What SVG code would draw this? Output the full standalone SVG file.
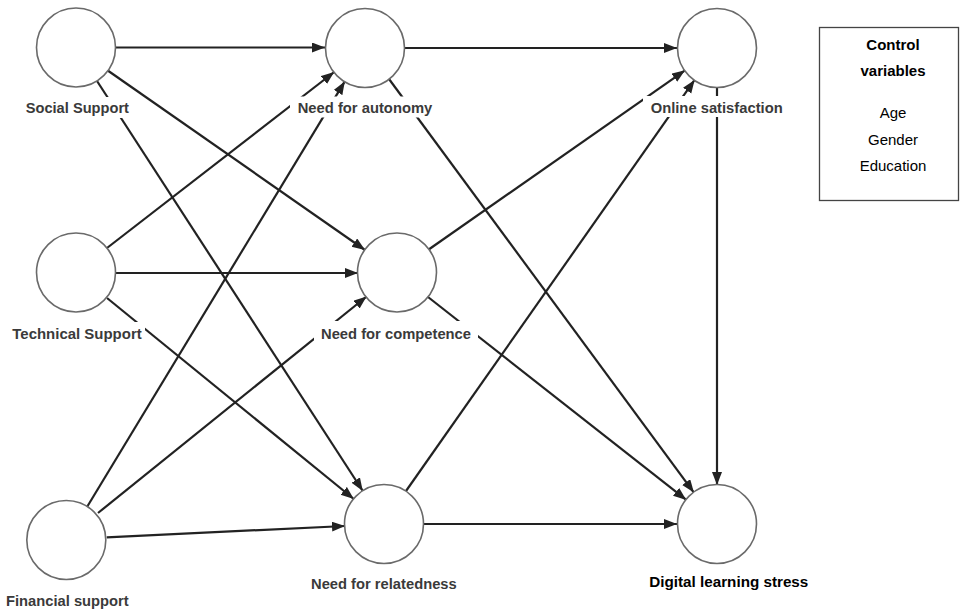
<svg xmlns="http://www.w3.org/2000/svg" width="960" height="611" viewBox="0 0 960 611">
<style>
.node{fill:#fff;stroke:#6a6a6a;stroke-width:1.6}
.conn line{stroke:#222;stroke-width:2.2;marker-end:url(#ah)}
.lbl{font-family:"Liberation Sans",Arial,sans-serif;font-weight:bold;font-size:15px;fill:#3a3a3a}
.gap{fill:#fff}
.ctl{font-family:"Liberation Sans",Arial,sans-serif;font-size:15px;fill:#000;text-anchor:middle}
</style>
<defs>
<marker id="ah" markerUnits="userSpaceOnUse" markerWidth="14" markerHeight="11" refX="13" refY="5" orient="auto">
<path d="M0,0 L13,5 L0,10 z" fill="#222"/>
</marker>
</defs>
<rect width="960" height="611" fill="#fff"/>
<g id="connectors" class="conn">
<line x1="116" y1="47.5" x2="325" y2="47.5"/>
<line x1="405" y1="48" x2="677" y2="48"/>
<line x1="107" y1="70" x2="365" y2="250"/>
<line x1="97" y1="81" x2="362.8" y2="491"/>
<line x1="107" y1="248" x2="334.2" y2="72"/>
<line x1="116" y1="273" x2="358" y2="273"/>
<line x1="107" y1="298" x2="353.8" y2="499"/>
<line x1="87" y1="507" x2="344.8" y2="81.4"/>
<line x1="98" y1="513" x2="366.6" y2="296.5"/>
<line x1="106.7" y1="537.3" x2="345" y2="526"/>
<line x1="389" y1="79" x2="693.9" y2="492.6"/>
<line x1="428" y1="250" x2="685" y2="70.3"/>
<line x1="428" y1="297" x2="686.3" y2="499.9"/>
<line x1="406" y1="491" x2="694.6" y2="79.9"/>
<line x1="424" y1="524" x2="677" y2="524"/>
<line x1="717" y1="87" x2="717" y2="485"/>
</g>
<g id="label-gaps">
<rect class="gap" x="22" y="97" width="111" height="21"/>
<rect class="gap" x="290" y="96.5" width="150" height="21"/>
<rect class="gap" x="643" y="96" width="147" height="21"/>
<rect class="gap" x="9" y="322" width="136" height="23"/>
<rect class="gap" x="314" y="321" width="164" height="24"/>
</g>
<g id="social-support">
<circle class="node" cx="76" cy="47.5" r="39.5"/>
<text class="lbl" x="25.7" y="113" textLength="103.3" lengthAdjust="spacingAndGlyphs">Social Support</text>
</g>
<g id="need-for-autonomy">
<circle class="node" cx="365" cy="48" r="39.5"/>
<text class="lbl" x="297.7" y="113" textLength="134.6" lengthAdjust="spacingAndGlyphs">Need for autonomy</text>
</g>
<g id="online-satisfaction">
<circle class="node" cx="717" cy="48" r="39.5"/>
<text class="lbl" x="650.7" y="113" textLength="132" lengthAdjust="spacingAndGlyphs">Online satisfaction</text>
</g>
<g id="technical-support">
<circle class="node" cx="76" cy="272.5" r="39.5"/>
<text class="lbl" x="12.3" y="339" textLength="129.4" lengthAdjust="spacingAndGlyphs">Technical Support</text>
</g>
<g id="need-for-competence">
<circle class="node" cx="397" cy="272.5" r="39.5"/>
<text class="lbl" x="321" y="339" textLength="150" lengthAdjust="spacingAndGlyphs">Need for competence</text>
</g>
<g id="financial-support">
<circle class="node" cx="66.3" cy="540" r="39.5"/>
<text class="lbl" x="6" y="606" textLength="122.7" lengthAdjust="spacingAndGlyphs">Financial support</text>
</g>
<g id="need-for-relatedness">
<circle class="node" cx="384" cy="524" r="39.5"/>
<text class="lbl" x="311" y="588.7" textLength="145.7" lengthAdjust="spacingAndGlyphs">Need for relatedness</text>
</g>
<g id="digital-learning-stress">
<circle class="node" cx="717" cy="524" r="39.5"/>
<text class="lbl" x="649.3" y="586.7" textLength="159" lengthAdjust="spacingAndGlyphs" style="fill:#000">Digital learning stress</text>
</g>
<g id="control-variables">
<rect x="819.5" y="27.5" width="139" height="173" fill="#fff" stroke="#444" stroke-width="1.3"/>
<text class="ctl" x="893" y="50" font-weight="bold">Control</text>
<text class="ctl" x="893" y="76" font-weight="bold">variables</text>
<text class="ctl" x="893" y="118">Age</text>
<text class="ctl" x="893" y="145">Gender</text>
<text class="ctl" x="893" y="171">Education</text>
</g>
</svg>
